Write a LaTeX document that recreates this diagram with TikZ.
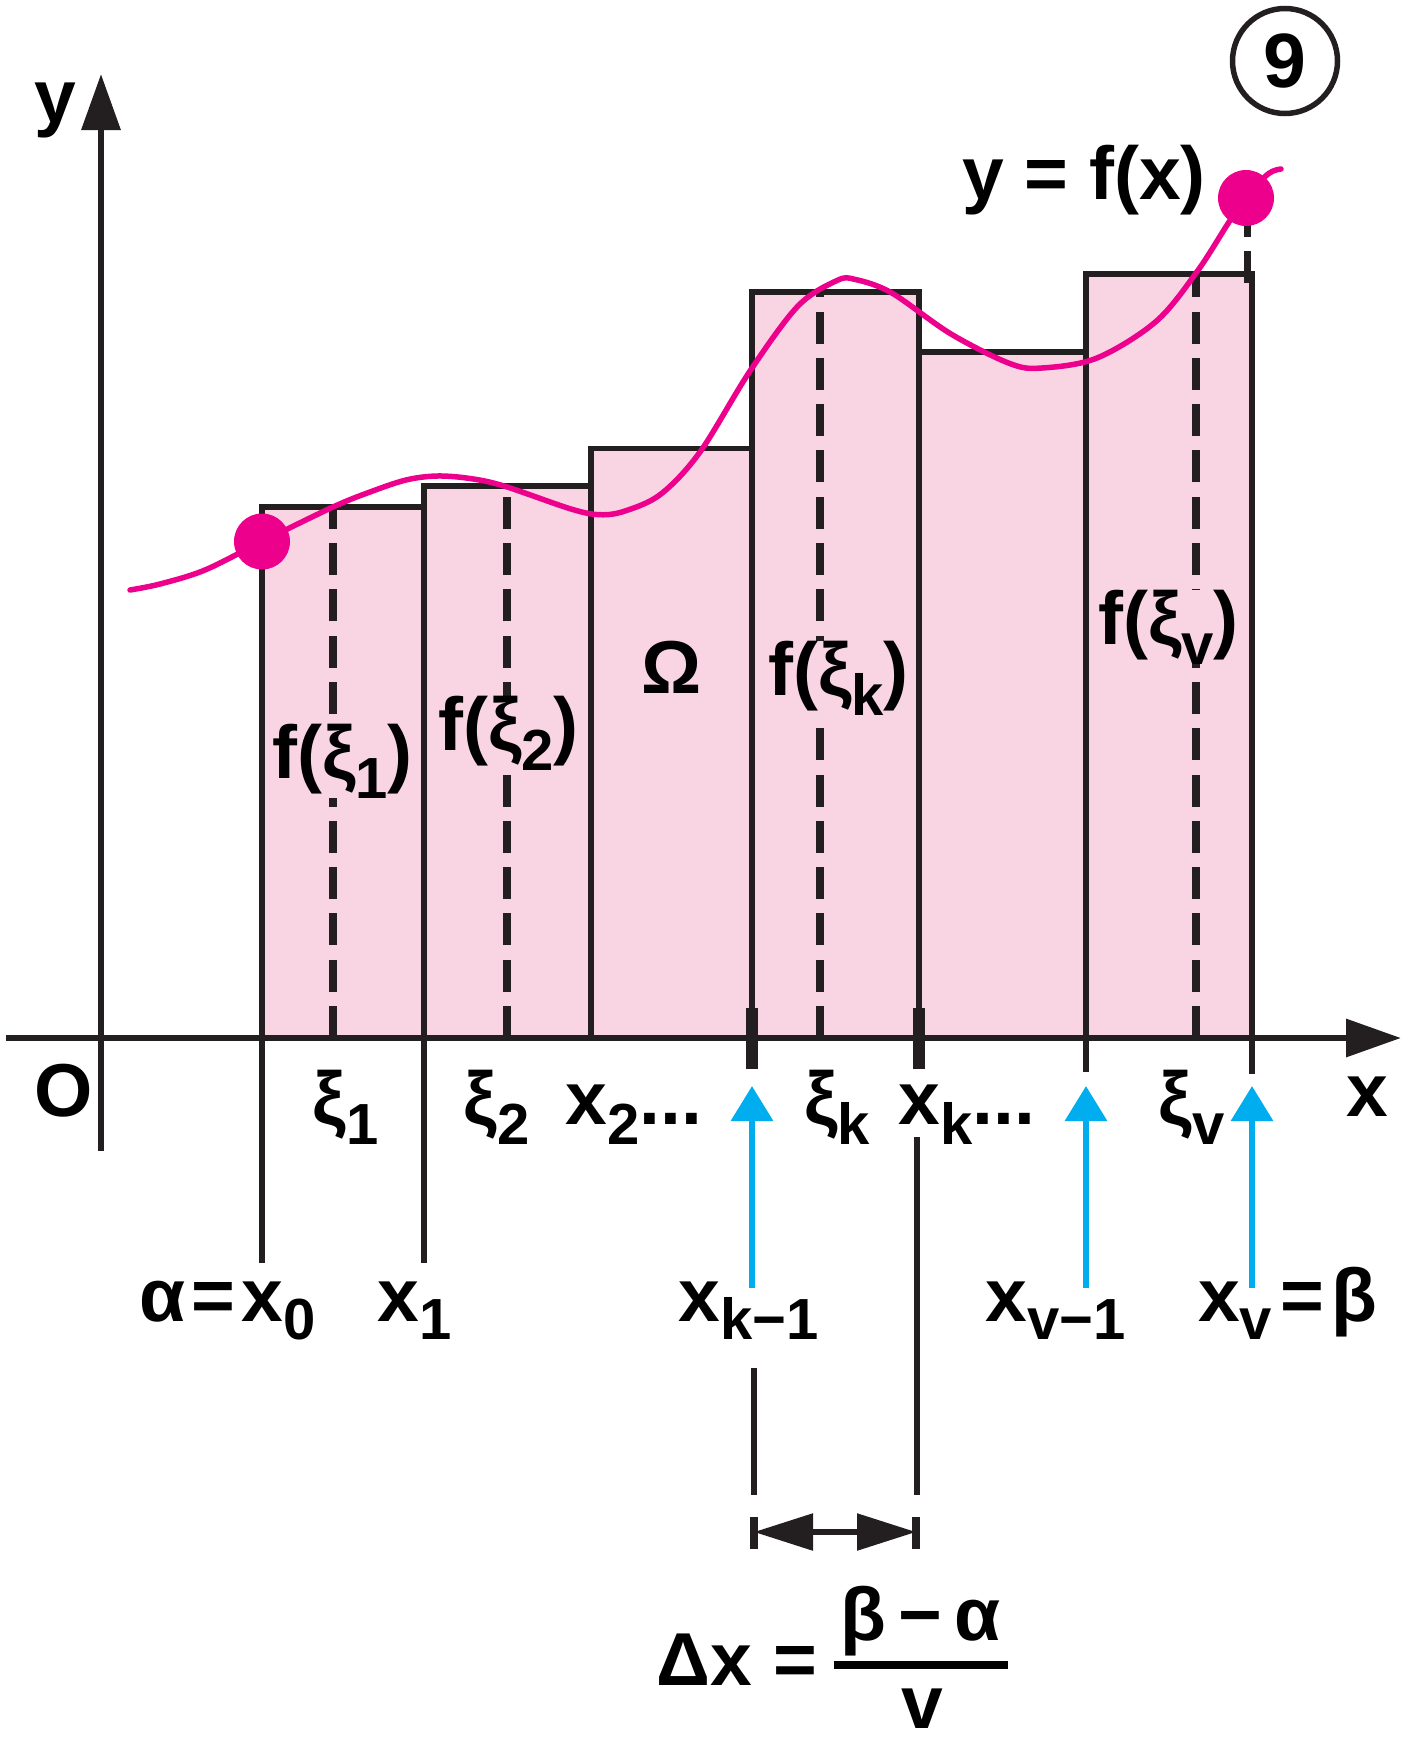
\documentclass[tikz,border=0pt]{standalone}
\usepackage{fontspec}
\setmainfont{Liberation Sans}
\usetikzlibrary{arrows.meta}
\definecolor{pinkfill}{RGB}{249,213,228}
\definecolor{curvecol}{RGB}{236,0,140}
\definecolor{bluecol}{RGB}{0,174,239}
\definecolor{ink}{RGB}{35,31,32}
\newcommand{\mainsz}{\fontsize{75}{80}\selectfont\bfseries}
\newcommand{\subsz}{\fontsize{58}{60}\selectfont\bfseries}
\newcommand{\lsub}[1]{\raisebox{-20pt}{\subsz #1}}
\newcommand{\lsubb}[1]{\raisebox{-18pt}{\subsz #1}}
\begin{document}
\begin{tikzpicture}[x=1pt,y=-1pt,
  lbl/.style={font=\mainsz, inner sep=0pt, anchor=base, text=black},
  flbl/.style={lbl, fill=pinkfill},
  rectbox/.style={fill=pinkfill, draw=ink, line width=5.5pt},
  dashln/.style={draw=ink, line width=7.5pt, dash pattern=on 32pt off 14.3pt},
  thinln/.style={draw=ink, line width=6pt},
  tickln/.style={draw=ink, line width=11.5pt},
  axisln/.style={draw=ink, line width=6.5pt},
  bluearr/.style={draw=bluecol, line width=6.5pt, -{Triangle[length=35pt,width=41pt]}},
  curveln/.style={draw=curvecol, line width=5.5pt, line cap=round, line join=round},
  dotm/.style={fill=curvecol}]
\useasboundingbox (0,0) rectangle (1415,1745);

% rectangles
\draw[rectbox] (262,1038) rectangle (424,507);
\draw[rectbox] (424,1038) rectangle (591,486);
\draw[rectbox] (591,1038) rectangle (752,448.5);
\draw[rectbox] (752,1038) rectangle (919,292);
\draw[rectbox] (919,1038) rectangle (1086,352);
\draw[rectbox] (1086,1038) rectangle (1252,274);

% dashed xi lines (from axis upwards)
\coordinate (d1b) at (333,1038);  \coordinate (d1t) at (333,507);
\coordinate (d2b) at (507,1038);  \coordinate (d2t) at (507,486);
\coordinate (dkb) at (820,1038);  \coordinate (dkt) at (820,292);
\coordinate (dvb) at (1196,1038); \coordinate (dvt) at (1196,274);
\draw[dashln] (d1b) -- (d1t);
\draw[dashln] (d2b) -- (d2t);
\draw[dashln] (dkb) -- (dkt);
\draw[dashln] (dvb) -- (dvt);
\coordinate (dtb) at (1247,283); \coordinate (dtt) at (1247,200);
\draw[dashln, line width=7pt] (dtb) -- (dtt);

% labels inside rectangles
\node[flbl] (fx1) at (342.5,778) {f(ξ\lsub{1})};
\node[flbl] (fx2) at (508.5,750) {f(ξ\lsub{2})};
\node[lbl]  (om)  at (671.5,693) {Ω};
\node[flbl] (fxk) at (838.5,695) {f(ξ\lsub{k})};
\node[flbl] (fxv) at (1168.5,644) {f(ξ\lsub{v})};

% curve
\draw[curveln] plot[smooth, tension=0.55] coordinates {
 (130,590) (160,584) (205,570) (262,541.5) (333,507) (370,492) (406,480)
 (437,476) (470,478.5) (504,486) (571,509) (600,514.7) (625,511) (661,494)
 (700,452) (750,371) (798,306) (837,280.5) (855,279.4) (891.5,292.8)
 (951,334) (1010,363.6) (1042,368) (1097,358) (1156,321.5) (1197,271.7)
 (1229,222) (1246,198) (1268,174) (1281,169)};
\fill[dotm] (262,541.5) circle[radius=28];
\fill[dotm] (1246,198) circle[radius=28];

% axes
\coordinate (xa0) at (6,1038);   \coordinate (xa1) at (1401,1038);
\coordinate (ya0) at (101,1151); \coordinate (ya1) at (101,74);
\draw[axisln, -{Triangle[length=55pt,width=37pt]}] (xa0) -- (xa1);
\draw[axisln, -{Triangle[length=56pt,width=38pt]}] (ya0) -- (ya1);

% lines below the axis
\draw[thinln] (262,1038) -- (262,1263);
\draw[thinln] (424,1038) -- (424,1263);
\draw[thinln] (1086,1038) -- (1086,1072);
\draw[thinln] (1252,1038) -- (1252,1074);
\draw[tickln] (752,1008) -- (752,1069);
\draw[tickln] (919,1008) -- (919,1069);
\coordinate (xkl0) at (917,1137); \coordinate (xkl1) at (917,1495);
\coordinate (xml0) at (754,1368); \coordinate (xml1) at (754,1495);
\draw[thinln] (xkl0) -- (xkl1);
\draw[thinln] (xml0) -- (xml1);

% blue arrows
\coordinate (b1s) at (752,1288);  \coordinate (b1e) at (752,1086);
\coordinate (b2s) at (1086,1288); \coordinate (b2e) at (1086,1086);
\coordinate (b3s) at (1252,1288); \coordinate (b3e) at (1252,1086);
\draw[bluearr] (b1s) -- (b1e);
\draw[bluearr] (b2s) -- (b2e);
\draw[bluearr] (b3s) -- (b3e);

% double arrow Delta x
\coordinate (dl) at (754,1532); \coordinate (dr) at (916,1532);
\draw[draw=ink, line width=7.5pt] (754,1517) -- (754,1549);
\draw[draw=ink, line width=7.5pt] (916,1517) -- (916,1549);
\draw[draw=ink, line width=5.5pt, {Triangle[length=59pt,width=36pt]}-{Triangle[length=59pt,width=36pt]}] (dl) -- (dr);

% axis labels
\node[lbl] (ly) at (55.5,122) {y};
\node[lbl] (lo) at (64,1116) {O};
\node[lbl] (lx) at (1367,1116) {x};
\node[lbl] (lyf) at (1084,199) {y = f(x)};
\node[draw=ink, line width=5.5pt, circle, minimum size=105pt, inner sep=0pt, font=\fontsize{77}{80}\selectfont\bfseries] (nine) at (1285,61) {9};

% first row of labels
\node[lbl] (r1a) at (345.5,1124) {ξ\lsub{1}};
\node[lbl] (r1b) at (496.5,1124) {ξ\lsub{2}};
\node[lbl] (r1c) at (634,1124) {x\lsub{2}...};
\node[lbl] (r1d) at (837,1124) {ξ\lsub{k}};
\node[lbl] (r1e) at (967,1124) {x\lsub{k}...};
\node[lbl] (r1f) at (1191.5,1124) {ξ\lsub{v}};

% second row of labels
\node[lbl] (r2a) at (227.5,1321) {α\hspace{6pt}=\hspace{6pt}x\lsubb{0}};
\node[lbl] (r2b) at (414.5,1321) {x\lsubb{1}};
\node[lbl] (r2c) at (749,1321) {x\lsubb{k−1}};
\node[lbl] (r2d) at (1056,1321) {x\lsubb{v−1}};
\node[lbl] (r2e) at (1288,1321) {x\lsubb{v}\hspace{8pt}=\hspace{8pt}β};

% formula
\node[lbl] (fdx) at (737,1685) {Δx =};
\node[lbl] (fnum) at (920.5,1640) {β\hspace{12pt}−\hspace{12pt}α};
\coordinate (fb0) at (834,1665); \coordinate (fb1) at (1008,1665);
\draw[draw=black, line width=7.7pt] (fb0) -- (fb1);
\node[lbl] (fden) at (922,1728) {v};
\end{tikzpicture}
\end{document}
